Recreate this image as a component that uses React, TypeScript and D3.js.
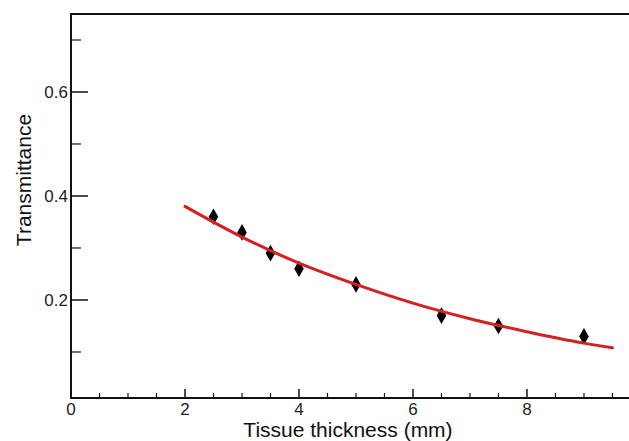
import { useEffect, useRef } from 'react'
import * as d3 from 'd3'

const thickness = [2.5, 3, 3.5, 4, 5, 6.5, 7.5, 9]
const transmittance = [0.36, 0.33, 0.29, 0.26, 0.23, 0.17, 0.15, 0.13]

// fitted curve
const fitX = [2, 3, 4, 5, 6, 7, 8, 9, 9.5]
const fitY = [0.38, 0.321, 0.271, 0.23, 0.194, 0.164, 0.139, 0.117, 0.108]

const xMajor = [0, 2, 4, 6, 8]
const xMinor = [0.5, 1, 1.5, 2.5, 3, 3.5, 4.5, 5, 5.5, 6.5, 7, 7.5, 8.5, 9, 9.5]
const yMajor = [0.2, 0.4, 0.6]
const yMinor = [0.1, 0.3, 0.5, 0.7]

export default function App() {
  const ref = useRef<SVGSVGElement>(null)

  useEffect(() => {
    if (!ref.current) return
    const width = 629
    const height = 441
    const margin = { top: 14, right: 0, bottom: 43, left: 71 }

    const svg = d3.select(ref.current)
    svg.selectAll('*').remove()
    svg.attr('width', width).attr('height', height)

    const font = 'Liberation Sans, Arial, sans-serif'

    const x = d3.scaleLinear().domain([0, 9.79]).range([margin.left, width - margin.right])
    const y = d3.scaleLinear().domain([0.0115, 0.75]).range([height - margin.bottom, margin.top])

    const x0 = margin.left
    const yb = height - margin.bottom

    // frame
    svg.append('path')
      .attr('d', `M${width + 2},${margin.top}H${x0}V${yb}H${width + 2}`)
      .attr('fill', 'none')
      .attr('stroke', '#111')
      .attr('stroke-width', 2)

    // x ticks (inward)
    svg.append('g').selectAll('line').data(xMajor.filter((d) => d > 0)).enter().append('line')
      .attr('x1', (d) => x(d)).attr('x2', (d) => x(d))
      .attr('y1', yb).attr('y2', yb - 9)
      .attr('stroke', '#111').attr('stroke-width', 1.5)
    svg.append('g').selectAll('line').data(xMinor).enter().append('line')
      .attr('x1', (d) => x(d)).attr('x2', (d) => x(d))
      .attr('y1', yb).attr('y2', yb - 5)
      .attr('stroke', '#111').attr('stroke-width', 1.2)
    svg.append('g').selectAll('text').data(xMajor).enter().append('text')
      .attr('x', (d) => x(d)).attr('y', yb + 17)
      .attr('text-anchor', 'middle')
      .attr('font-family', font).attr('font-size', 17).attr('fill', '#222')
      .text((d) => d)

    // y ticks (inward)
    svg.append('g').selectAll('line').data(yMajor).enter().append('line')
      .attr('x1', x0).attr('x2', x0 + 17)
      .attr('y1', (d) => y(d)).attr('y2', (d) => y(d))
      .attr('stroke', '#111').attr('stroke-width', 1.5)
    svg.append('g').selectAll('line').data(yMinor).enter().append('line')
      .attr('x1', x0).attr('x2', x0 + 10)
      .attr('y1', (d) => y(d)).attr('y2', (d) => y(d))
      .attr('stroke', '#111').attr('stroke-width', 1.2)
    svg.append('g').selectAll('text').data(yMajor).enter().append('text')
      .attr('x', x0 - 3).attr('y', (d) => y(d) + 6)
      .attr('text-anchor', 'end')
      .attr('font-family', font).attr('font-size', 17).attr('fill', '#222')
      .text((d) => d.toFixed(1))

    // axis titles
    svg.append('text')
      .attr('x', 348).attr('y', 437)
      .attr('text-anchor', 'middle')
      .attr('font-family', font).attr('font-size', 21).attr('fill', '#111')
      .text('Tissue thickness (mm)')
    svg.append('text')
      .attr('transform', 'translate(31,180) rotate(-90)')
      .attr('text-anchor', 'middle')
      .attr('font-family', font).attr('font-size', 21).attr('fill', '#111')
      .text('Transmittance')

    // points
    const sym = d3.symbol().type(d3.symbolDiamond).size(80)
    svg.append('g').selectAll('path').data(thickness).enter().append('path')
      .attr('transform', (d, i) => `translate(${x(d)},${y(transmittance[i])})`)
      .attr('d', sym() as string)
      .attr('fill', '#000')

    // fit line
    const line = d3.line<number>()
      .x((d) => x(d))
      .y((_, i) => y(fitY[i]))
      .curve(d3.curveMonotoneX)
    svg.append('path')
      .attr('d', line(fitX) as string)
      .attr('fill', 'none')
      .attr('stroke', '#d61f1f')
      .attr('stroke-width', 3)
      .attr('stroke-linecap', 'round')
  }, [])

  return (
    <div style={{ position: 'absolute', left: 0, top: 0, background: '#fff' }}>
      <svg ref={ref} style={{ display: 'block' }} />
    </div>
  )
}
